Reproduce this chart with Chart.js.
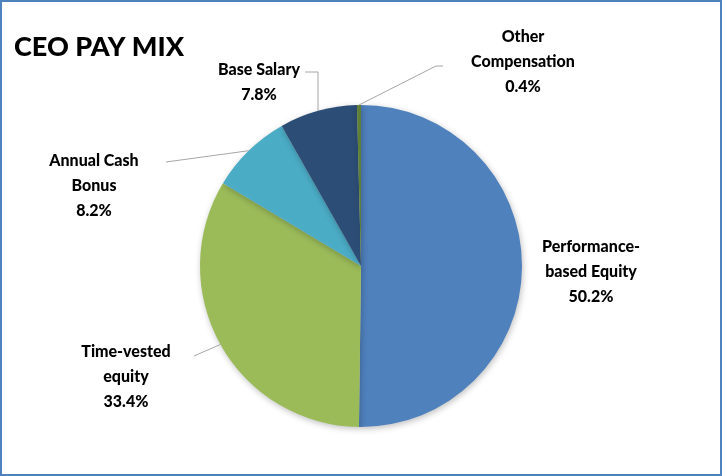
<!DOCTYPE html>
<html>
<head>
<meta charset="utf-8">
<script src="https://cdn.jsdelivr.net/npm/chart.js@4"></script>
<style>
  body { margin: 0; background: #fff; }
  #wrap { width: 722px; height: 476px; box-sizing: border-box; border: 2px solid #4F81BD; position: relative; }
  canvas { display: block; }
</style>
</head>
<body>
<div id="wrap"><canvas id="canvas" width="718" height="472"></canvas></div>
<script>
/* CEO pay mix pie */

var categories = ['Performance-based Equity', 'Time-vested equity', 'Annual Cash Bonus', 'Base Salary', 'Other Compensation'];
var values = [50.2, 33.4, 8.2, 7.8, 0.4];
var labelLines = [['Performance-', 'based Equity'], ['Time-vested', 'equity'], ['Annual Cash', 'Bonus'], ['Base Salary'], ['Other', 'Compensation']];
var colors = ['#4F81BD', '#9BBB59', '#4BACC6', '#2C4D75', '#5E7F35'];

// label placement (text centre x, first line y, leader elbow) - layout only
var labelPos = [
  { x: 589, y: 250, line: null },
  { x: 124, y: 355, line: { ex: 192, ey: 354 } },
  { x: 92, y: 164, line: { ex: 164, ey: 160 } },
  { x: 257, y: 73, line: { ex: 303, ey: 70, kx: 316 } },
  { x: 521, y: 40, line: { ex: 441, ey: 64, kx: 434 } }
];

var labelPlugin = {
  id: 'labels',
  afterDatasetsDraw: function (chart) {
    var ctx = chart.ctx;
    var meta = chart.getDatasetMeta(0);
    ctx.save();
    // title
    ctx.fillStyle = '#000';
    ctx.font = '900 27px Lato';
    ctx.textAlign = 'left';
    ctx.textBaseline = 'middle';
    ctx.fillText('CEO PAY MIX', 12, 45);

    ctx.font = '900 16px Lato';
    ctx.textAlign = 'center';
    ctx.textBaseline = 'alphabetic';
    meta.data.forEach(function (arc, i) {
      var p = labelPos[i];
      var mid = (arc.startAngle + arc.endAngle) / 2;
      if (p.line) {
        var sx = arc.x + Math.cos(mid) * arc.outerRadius;
        var sy = arc.y + Math.sin(mid) * arc.outerRadius;
        ctx.strokeStyle = '#A6A6A6';
        ctx.lineWidth = 1;
        ctx.beginPath();
        ctx.moveTo(sx, sy);
        if (p.line.kx !== undefined) {
          ctx.lineTo(p.line.kx, p.line.ey);
        }
        ctx.lineTo(p.line.ex, p.line.ey);
        ctx.stroke();
      }
      var lines = labelLines[i].concat([values[i].toFixed(1) + '%']);
      ctx.fillStyle = '#000';
      lines.forEach(function (t, j) {
        ctx.fillText(t, p.x, p.y + j * 25);
      });
    });
    ctx.restore();
  }
};

var shadowPlugin = {
  id: 'pieShadow',
  beforeDatasetsDraw: function (chart) {
    var ctx = chart.ctx;
    ctx.save();
    ctx.shadowColor = 'rgba(0,0,0,0.25)';
    ctx.shadowBlur = 6;
    ctx.shadowOffsetX = 1;
    ctx.shadowOffsetY = 2;
  },
  afterDatasetsDraw: function (chart) {
    chart.ctx.restore();
  }
};

const ctx = document.getElementById('canvas').getContext('2d');
const myChart = new Chart(ctx, {
  type: 'pie',
  data: {
    labels: categories,
    datasets: [
      {
        data: values,
        backgroundColor: colors,
        borderWidth: 0,
      },
    ],
  },
  options: {
    responsive: false,
    animation: false,
    layout: { padding: { top: 103, bottom: 47, left: 0, right: 0 } },
    plugins: {
      legend: { display: false },
      tooltip: { enabled: false },
      title: { display: false },
    },
  },
  plugins: [shadowPlugin, labelPlugin],
});
</script>
</body>
</html>
